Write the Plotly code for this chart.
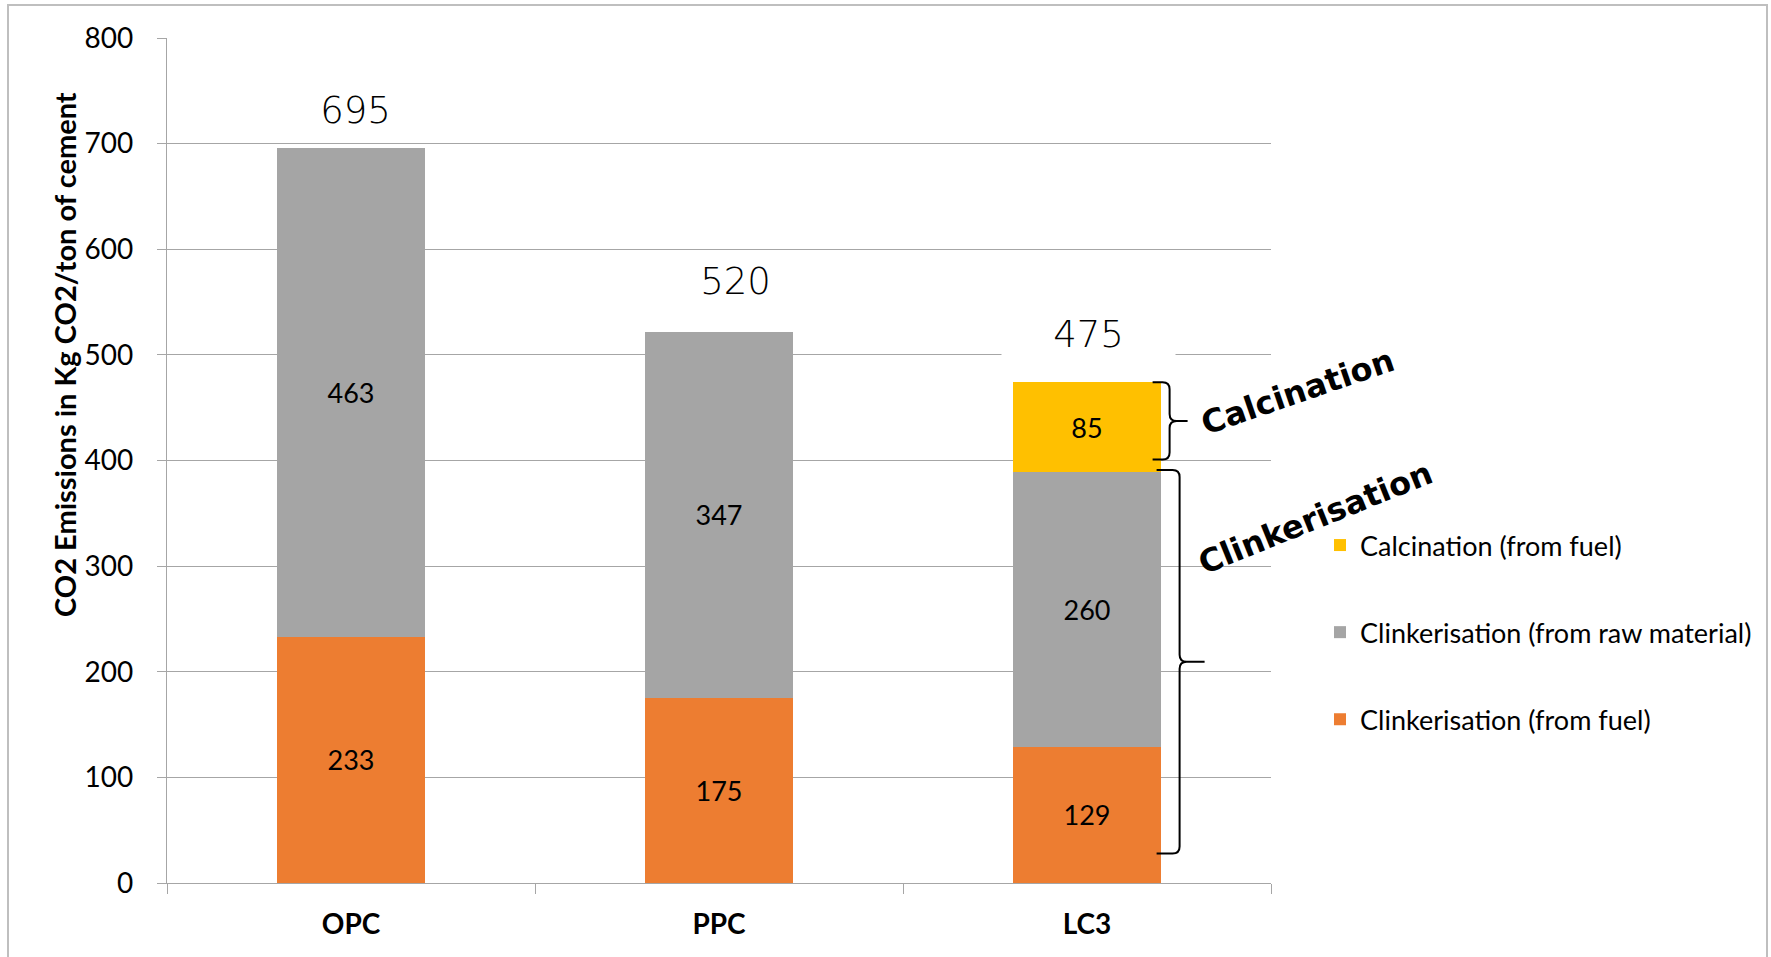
import plotly.graph_objects as go

# ---- data ----
categories = ["OPC", "PPC", "LC3"]
clinker_fuel = [233, 175, 129]        # Clinkerisation (from fuel)
clinker_raw = [463, 347, 260]         # Clinkerisation (from raw material)
calcination_fuel = [None, None, 85]   # Calcination (from fuel)
totals = [695, 520, 475]
y_tick_values = [0, 100, 200, 300, 400, 500, 600, 700, 800]

# brace spans (in kg CO2/ton) drawn beside the LC3 column
calcination_span = (474, 401)
clinker_span = (391, 28)

# ---- page geometry (pixels) ----
W, H = 1771, 957
L, R, T, B = 167, 1271, 38, 883
Y_MAX = 800

GRID = "#a6a6a6"
FONT = "Lato"


def px_x(px):
    return (px - L) / (R - L)


def px_y(py):
    return (B - py) / (B - T)


fig = go.Figure()

# stacked series; legendrank puts the top segment first in the legend
series = [
    ("Clinkerisation (from fuel)", clinker_fuel, "#ED7D31", 3),
    ("Clinkerisation (from raw material)", clinker_raw, "#A5A5A5", 2),
    ("Calcination (from fuel)", calcination_fuel, "#FFC000", 1),
]
for name, vals, color, rank in series:
    fig.add_trace(go.Bar(
        x=categories, y=vals, name=name, legendgroup=name, legendrank=rank,
        marker=dict(color=color, line=dict(width=0)),
        texttemplate="%{y}", textposition="inside", insidetextanchor="middle",
        textangle=0, constraintext="none",
        textfont=dict(family=FONT, size=27, color="black"),
    ))

# total labels above each column (white label boxes)
label_offsets = [(4, 39), (16, 53), (1, 47)]
for cat, tot, (dx, dy) in zip(categories, totals, label_offsets):
    fig.add_annotation(
        x=cat, y=tot, xref="x", yref="y", text=str(tot), showarrow=False,
        xanchor="center", yanchor="middle", xshift=dx, yshift=dy,
        width=171, height=46, bgcolor="white",
        font=dict(family="DejaVu Sans", size=37, color="black", weight=200),
    )

# curly braces to the right of the LC3 column
unit = 3 / (R - L)          # category units per pixel
bar_edge = 2 + 0.2


def brace(y_top, y_bot, start, vert, tip):
    x0 = bar_edge + start * unit
    xv = bar_edge + vert * unit
    xt = bar_edge + tip * unit
    c = 7 * unit
    r = 7 / ((B - T) / Y_MAX)
    ym = (y_top + y_bot) / 2
    return (f"M {x0},{y_top} L {xv - c},{y_top} Q {xv},{y_top} {xv},{y_top - r} "
            f"L {xv},{ym + r} Q {xv},{ym} {xv + c},{ym} L {xt},{ym} "
            f"M {xv + c},{ym} Q {xv},{ym} {xv},{ym - r} "
            f"L {xv},{y_bot + r} Q {xv},{y_bot} {xv - c},{y_bot} L {x0},{y_bot}")


fig.add_shape(type="path", xref="x", yref="y",
              path=brace(calcination_span[0], calcination_span[1], -8, 9, 27),
              line=dict(color="black", width=2))
fig.add_shape(type="path", xref="x", yref="y",
              path=brace(clinker_span[0], clinker_span[1], -4, 19, 44),
              line=dict(color="black", width=2))

# brace captions
fig.add_annotation(x=px_x(1297), y=px_y(392), xref="paper", yref="paper",
                   xanchor="center", yanchor="middle",
                   text="<b>Calcination</b>", showarrow=False, textangle=-19,
                   font=dict(family="DejaVu Sans", size=32, color="black"))
fig.add_annotation(x=px_x(1315), y=px_y(518), xref="paper", yref="paper",
                   xanchor="center", yanchor="middle",
                   text="<b>Clinkerisation</b>", showarrow=False, textangle=-22,
                   font=dict(family="DejaVu Sans", size=32, color="black"))

# y-axis title
fig.add_annotation(x=px_x(64), y=px_y(355), xref="paper", yref="paper",
                   xanchor="center", yanchor="middle",
                   text="<b>CO2 Emissions in Kg CO2/ton of cement</b>",
                   showarrow=False, textangle=-90,
                   font=dict(family=FONT, size=29, color="black"))

# outer chart frame
fig.add_shape(type="rect", xref="paper", yref="paper",
              x0=px_x(8), x1=px_x(1767), y0=px_y(5), y1=px_y(970),
              line=dict(color="#bfbfbf", width=2), fillcolor="rgba(0,0,0,0)",
              layer="below")

fig.update_layout(
    width=W, height=H,
    margin=dict(l=L, r=W - R, t=T, b=H - B, pad=0),
    paper_bgcolor="white", plot_bgcolor="white",
    barmode="stack", bargap=0.6,
    showlegend=True,
    legend=dict(
        x=px_x(1320), xanchor="left", y=px_y(521), yanchor="top",
        traceorder="grouped", tracegroupgap=49,
        font=dict(family=FONT, size=27, color="black"),
        bgcolor="rgba(0,0,0,0)",
    ),
    xaxis=dict(
        type="category", tickson="boundaries", ticks="outside", ticklen=10,
        tickcolor=GRID, tickwidth=1.3, showline=True, linecolor=GRID, linewidth=1.3,
        showgrid=False, tickfont=dict(family=FONT, size=28, color="black", weight="bold"),
        range=[-0.5, 2.5], ticklabelstandoff=16,
    ),
    yaxis=dict(
        range=[0, Y_MAX], tickvals=y_tick_values, ticks="outside", ticklen=9,
        tickcolor=GRID, tickwidth=1.3, showline=True, linecolor=GRID, linewidth=1.3,
        showgrid=True, gridcolor=GRID, gridwidth=1.3, zeroline=False,
        tickfont=dict(family=FONT, size=28, color="black"), ticklabelstandoff=18,
    ),
)

fig.write_html("out.html")
